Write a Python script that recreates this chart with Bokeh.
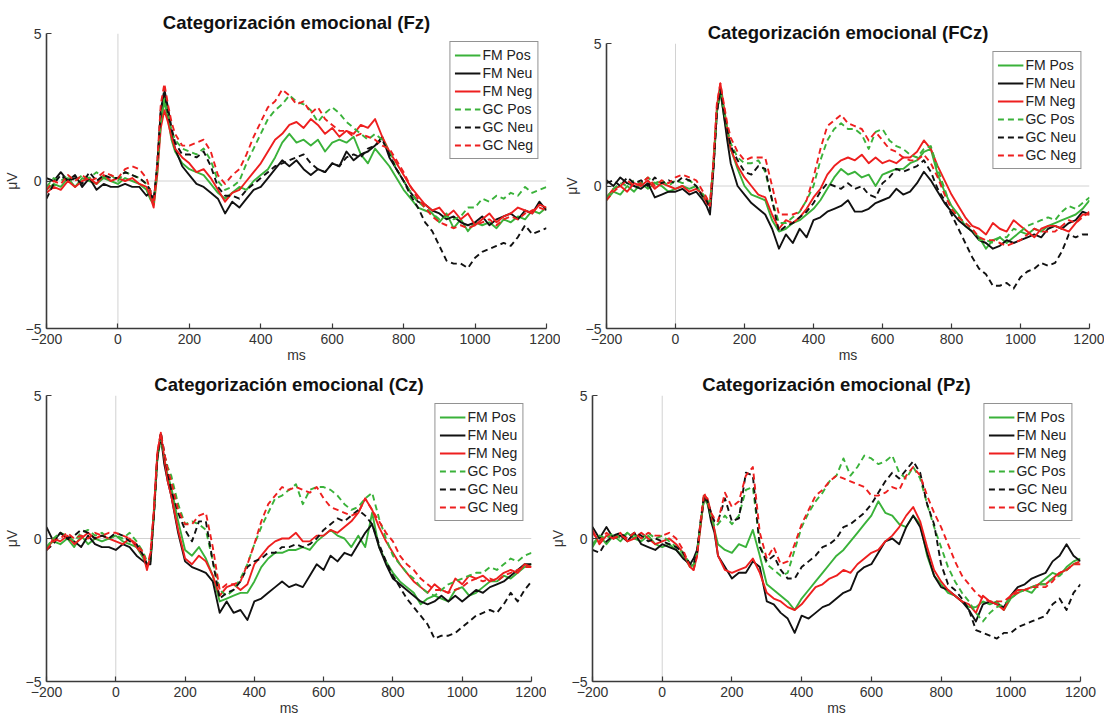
from bokeh.plotting import figure
from bokeh.models import Span, Legend, LegendItem, FixedTicker, Range1d, Spacer
from bokeh.layouts import column, row
from bokeh.embed import file_html
from bokeh.resources import INLINE

# time axis (ms)
T = [-200, -180, -160, -140, -120, -100, -80, -60, -40, -20, 0, 20, 40, 60, 80,
     90, 100, 110, 120, 130, 140, 150,
     160, 180, 200, 220, 240, 260, 280, 300, 320, 340,
     360, 380, 400, 420, 440, 460, 480, 500, 520, 540,
     560, 580, 600, 620, 640, 660, 680, 700, 720, 740,
     760, 780, 800, 820, 840, 860, 880, 900, 920, 940,
     960, 980, 1000, 1020, 1040, 1060, 1080, 1100, 1120, 1140,
     1160, 1180, 1200]

X_TICKS = [-200, 0, 200, 400, 600, 800, 1000, 1200]
Y_TICKS = [-5, 0, 5]
SERIES = ["FM Pos", "FM Neu", "FM Neg", "GC Pos", "GC Neu", "GC Neg"]

# ---------------- Fz ----------------
fz_fm_pos = [-0.3, -0.1, -0.2, 0.1, -0.2, 0.1, 0.0, -0.1, 0.1, 0.0, -0.1, 0.1, 0.0, -0.1, -0.3,
             -0.6, -0.8, 0.4, 2.0, 2.7, 2.1, 1.4,
             1.0, 0.6, 0.4, 0.3, 0.2, -0.1, -0.4, -0.6, -0.4, -0.2,
             -0.3, 0.0, 0.2, 0.4, 0.8, 1.3, 1.6, 1.3, 1.4, 1.2,
             1.4, 1.0, 1.3, 1.4, 1.3, 1.5, 0.9, 0.6, 1.1, 0.8,
             0.5, 0.1, -0.3, -0.6, -0.9, -1.0, -1.1, -1.4, -1.1, -1.6,
             -1.3, -1.7, -1.4, -1.5, -1.4, -1.6, -1.3, -1.4, -1.2, -1.3,
             -1.0, -1.1, -0.9]
fz_fm_neu = [0.1, 0.0, 0.3, 0.0, 0.2, -0.2, 0.1, -0.3, -0.1, -0.2, -0.2, -0.1, -0.2, -0.2, -0.5,
             -0.4, -0.7, 0.5, 2.4, 3.0, 2.3, 1.6,
             1.1, 0.5, 0.2, -0.1, -0.2, -0.4, -0.6, -1.1, -0.7, -0.9,
             -0.6, -0.3, -0.2, 0.1, 0.4, 0.7, 0.5, 0.7, 0.4, 0.2,
             0.4, 0.3, 0.6, 0.5, 1.0, 0.7, 0.9, 1.0, 1.2, 1.5,
             0.8, 0.4, 0.0, -0.4, -0.7, -0.8, -1.0, -1.1, -1.3, -1.2,
             -1.4, -1.5, -1.4, -1.2, -1.5, -1.3, -1.2, -1.1, -1.3, -1.0,
             -1.1, -0.7, -1.0]
fz_fm_neg = [-0.4, -0.2, -0.3, 0.0, -0.2, 0.0, 0.1, -0.1, 0.2, 0.0, 0.1, 0.0, 0.1, -0.1, -0.2,
             -0.5, -0.9, 0.2, 1.8, 2.4, 2.0, 1.5,
             1.1, 0.8, 0.6, 0.3, 0.4, 0.1, -0.3, -0.7, -0.4, -0.3,
             0.0, 0.3, 0.6, 1.0, 1.4, 1.6, 1.9, 2.0, 1.8, 2.1,
             1.9, 1.6, 1.8, 1.5, 1.7, 1.6, 1.9, 1.8, 2.1, 1.5,
             1.0, 0.6, 0.2, -0.2, -0.5, -0.8, -1.0, -0.9, -1.2, -1.0,
             -1.3, -1.1, -1.5, -1.3, -1.1, -1.4, -1.2, -1.1, -0.9, -1.0,
             -1.1, -0.8, -0.9]
fz_gc_pos = [-0.2, 0.1, 0.0, 0.2, 0.0, 0.2, 0.1, 0.3, 0.1, 0.2, 0.0, 0.3, 0.2, 0.1, -0.1,
             -0.3, -0.8, 0.3, 2.0, 2.8, 2.3, 1.7,
             1.4, 1.1, 1.0, 0.9, 1.1, 0.7, 0.0, -0.3, -0.2, 0.0,
             0.6, 1.1, 1.6, 2.1, 2.4, 2.6, 2.9, 2.7, 2.6, 2.4,
             2.0, 2.3, 2.5, 2.3, 2.0, 1.8, 1.6, 1.4, 1.6, 1.4,
             1.0, 0.4, 0.0, -0.4, -0.7, -0.9, -1.1, -1.3, -1.2, -1.3,
             -1.2, -0.9, -0.9, -0.6, -0.7, -0.5, -0.6, -0.4, -0.5, -0.2,
             -0.4, -0.3, -0.2]
fz_gc_neu = [-0.6, -0.1, 0.2, 0.0, 0.1, -0.1, 0.3, 0.0, 0.2, 0.1, 0.1, 0.3, 0.2, 0.1, -0.1,
             -0.3, -0.7, 0.5, 2.4, 3.1, 2.5, 1.8,
             1.3, 0.9, 0.9, 0.8, 1.0, 0.5, -0.2, -0.5, -0.5, -0.6,
             -0.3, -0.1, 0.1, 0.3, 0.5, 0.6, 0.7, 0.8, 0.9, 0.6,
             0.4, 0.3, 0.6, 0.5, 0.8, 0.9, 0.8, 1.1, 1.2, 1.4,
             0.9, 0.4, 0.0, -0.5, -0.9, -1.4, -1.7, -2.2, -2.7, -2.8,
             -2.8, -2.95, -2.6, -2.4, -2.3, -2.2, -2.1, -2.2, -1.9, -1.5,
             -1.8, -1.7, -1.6]
fz_gc_neg = [-0.3, 0.0, -0.1, 0.2, 0.0, 0.2, 0.0, 0.1, 0.3, 0.2, 0.1, 0.4, 0.5, 0.4, 0.1,
             -0.3, -0.8, 0.6, 2.6, 3.3, 2.6, 2.0,
             1.6, 1.2, 1.2, 1.3, 1.4, 1.0, 0.2, -0.1, 0.2, 0.4,
             0.9, 1.5, 2.0, 2.5, 2.7, 3.1, 2.9, 2.6, 2.7, 2.3,
             2.5, 2.1, 1.9, 1.7, 1.7, 1.5, 1.6, 1.5, 1.4, 1.2,
             1.1, 0.7, 0.3, -0.2, -0.6, -0.9, -1.2, -1.4, -1.5, -1.6,
             -1.5, -1.6, -1.5, -1.4, -1.3, -1.5, -1.3, -1.2, -1.3, -1.1,
             -1.0, -0.9, -1.0]

# ---------------- FCz ----------------
fcz_fm_pos = [-0.5, -0.2, -0.3, 0.0, -0.2, 0.1, -0.1, 0.1, 0.0, -0.2, -0.1, 0.0, -0.1, 0.0, -0.4,
              -0.5, -0.6, 0.8, 2.6, 3.3, 2.5, 1.8,
              1.3, 0.6, 0.0, -0.3, -0.4, -0.5, -1.2, -1.6, -1.5, -1.3,
              -1.2, -1.0, -0.8, -0.5, -0.1, 0.3, 0.6, 0.4, 0.5, 0.3,
              0.4, 0.0, 0.4, 0.5, 0.6, 0.6, 0.8, 0.9, 1.2, 1.3,
              0.4, -0.2, -0.7, -1.0, -1.4, -1.6, -1.8, -2.2, -1.9, -1.8,
              -2.0, -1.8, -1.6, -1.7, -1.5, -1.6, -1.4, -1.3, -1.2, -1.1,
              -1.0, -0.8, -0.5]
fcz_fm_neu = [0.2, 0.0, 0.3, 0.1, 0.0, -0.1, 0.1, -0.4, -0.3, -0.2, -0.2, -0.1, -0.3, -0.2, -0.5,
              -0.7, -1.0, 0.6, 2.6, 3.4, 2.5, 1.6,
              0.8, 0.0, -0.3, -0.6, -0.8, -1.0, -1.5, -2.2, -1.7, -2.0,
              -1.5, -1.8, -1.2, -1.1, -0.9, -0.8, -0.7, -0.5, -0.9, -0.9,
              -0.8, -0.6, -0.5, -0.4, -0.1, -0.3, -0.2, 0.1, 0.5, 0.2,
              -0.2, -0.6, -0.9, -1.2, -1.4, -1.6, -1.9, -2.0, -2.2, -2.1,
              -1.9, -2.0, -1.9, -1.8, -1.7, -1.8, -1.5, -1.4, -1.5, -1.3,
              -1.2, -0.9, -1.0]
fcz_fm_neg = [-0.4, -0.1, 0.0, -0.2, 0.1, 0.0, 0.2, -0.1, 0.1, 0.0, -0.1, 0.0, -0.2, -0.1, -0.3,
              -0.6, -0.7, 0.8, 2.8, 3.6, 2.8, 2.0,
              1.3, 0.7, 0.3, 0.0, -0.3, -0.4, -1.0, -1.5, -1.2, -1.3,
              -1.1, -0.8, -0.4, -0.1, 0.4, 0.7, 0.9, 1.0, 0.9, 1.1,
              0.8, 1.0, 0.8, 0.9, 0.8, 1.0, 1.0, 1.2, 1.6, 1.3,
              0.7, 0.2, -0.3, -0.7, -1.1, -1.4, -1.5, -1.7, -1.3, -1.5,
              -1.6, -1.2, -1.4, -1.6, -1.8, -1.5, -1.4, -1.4, -1.5, -1.6,
              -1.3, -1.0, -1.0]
fcz_gc_pos = [-0.4, -0.1, 0.1, 0.0, 0.2, 0.1, 0.3, 0.1, 0.2, 0.0, 0.2, 0.1, 0.2, 0.0, -0.3,
              -0.4, -0.6, 0.7, 2.6, 3.4, 2.7, 2.0,
              1.5, 1.0, 0.8, 0.8, 0.9, 0.5, -0.5, -1.3, -1.3, -1.1,
              -0.9, -0.5, 0.0, 0.9, 1.6, 2.0, 2.2, 2.0, 2.0, 1.8,
              1.3, 1.9, 2.0, 1.6, 1.4, 1.3, 1.1, 1.0, 1.3, 1.4,
              0.6, -0.1, -0.8, -1.1, -1.3, -1.5, -1.9, -1.9, -2.0, -1.8,
              -1.8, -1.5, -1.6, -1.4, -1.3, -1.2, -1.1, -1.2, -0.9, -0.7,
              -0.8, -0.6, -0.4]
fcz_gc_neu = [0.1, 0.2, 0.0, 0.3, 0.1, 0.2, 0.0, 0.3, 0.1, 0.2, 0.1, 0.3, 0.2, 0.0, -0.4,
              -0.5, -0.8, 0.6, 2.6, 3.4, 2.7, 2.0,
              1.4, 0.9, 0.5, 0.4, 0.7, 0.6, -0.5, -1.6, -1.4, -1.3,
              -1.1, -0.9, -0.6, -0.2, 0.1, 0.0, -0.1, 0.1, -0.1, 0.0,
              -0.3, -0.4, 0.1, 0.3, 0.6, 0.5, 0.6, 0.7, 0.9, 0.5,
              -0.1, -0.5, -1.0, -1.5, -2.0, -2.5, -2.9, -3.1, -3.5, -3.5,
              -3.4, -3.6, -3.2, -3.0, -2.9, -2.7, -2.8, -2.7, -2.3, -1.7,
              -1.8, -1.7, -1.7]
fcz_gc_neg = [-0.5, -0.2, 0.0, 0.2, 0.0, 0.1, 0.3, 0.0, 0.2, 0.1, 0.3, 0.4, 0.3, 0.2, -0.2,
              -0.4, -0.7, 0.9, 2.9, 3.6, 2.9, 2.2,
              1.7, 1.2, 0.9, 1.0, 1.0, 1.0, 0.0, -1.0, -1.0, -1.0,
              -0.9, -0.5, 0.3, 1.3, 2.1, 2.3, 2.5, 2.2, 2.1, 2.0,
              1.6, 1.9, 1.6, 1.3, 1.2, 1.0, 0.9, 0.9, 1.1, 0.8,
              0.3, -0.3, -0.8, -1.1, -1.3, -1.5, -1.8, -1.9, -1.9, -2.0,
              -2.1, -2.0, -1.9, -1.7, -1.5, -1.6, -1.6, -1.6, -1.4, -1.2,
              -1.3, -1.1, -0.9]

# ---------------- Cz ----------------
cz_fm_pos = [-0.3, -0.1, -0.2, 0.0, -0.3, 0.1, -0.2, 0.0, -0.1, 0.0, 0.1, -0.1, -0.2, -0.3, -0.7,
             -0.9, -0.8, 0.8, 2.8, 3.5, 2.8, 2.2,
             1.8, 0.6, -0.4, -0.6, -0.3, -0.7, -1.3, -2.2, -2.1, -2.0,
             -1.9, -1.9, -1.5, -1.0, -0.7, -0.5, -0.5, -0.4, -0.4, -0.3,
             -0.4, -0.1, 0.1, 0.3, 0.1, 0.0, -0.3, 0.1, -0.3, 0.9,
             -0.3, -0.8, -1.2, -1.5, -1.7, -1.9, -2.3, -2.1, -2.0, -2.1,
             -2.2, -1.8, -1.7, -2.0, -1.9, -1.7, -1.5, -1.5, -1.3, -1.4,
             -1.2, -1.0, -0.9]
cz_fm_neu = [0.4, -0.1, 0.2, 0.0, -0.1, -0.3, 0.1, -0.2, -0.3, -0.3, -0.4, -0.2, -0.3, -0.6, -0.8,
             -0.9, -0.9, 0.9, 2.9, 3.6, 2.6, 2.0,
             1.5, 0.2, -0.8, -1.0, -1.1, -1.2, -1.5, -2.6, -2.2, -2.6,
             -2.5, -2.85, -2.2, -2.1, -1.9, -1.7, -1.5, -1.7, -1.6, -1.7,
             -1.3, -0.9, -1.1, -0.6, -0.8, -0.5, -0.6, -0.2, 0.2, 0.5,
             -0.3, -0.9, -1.4, -1.6, -1.8, -2.0, -2.2, -2.3, -2.2, -2.0,
             -2.2, -2.0, -2.2, -2.0, -1.8, -1.9, -1.7, -1.6, -1.5, -1.3,
             -1.1, -0.9, -0.9]
cz_fm_neg = [-0.4, 0.0, -0.1, 0.1, -0.2, 0.0, 0.2, 0.0, 0.1, 0.0, -0.1, -0.2, 0.0, -0.3, -0.6,
             -1.1, -0.6, 1.0, 3.0, 3.7, 2.8, 2.0,
             1.5, 0.3, -0.7, -0.9, -0.6, -0.8, -1.3, -2.0, -1.7, -1.6,
             -1.8, -1.6, -0.9, -0.6, -0.3, -0.1, 0.0, 0.0, 0.2, -0.1,
             -0.1, 0.1, 0.1, 0.3, 0.2, 0.4, 0.6, 0.9, 1.4, 1.0,
             0.4, -0.1, -0.5, -0.9, -1.2, -1.5, -1.7, -1.9, -1.6, -1.8,
             -1.9, -1.4, -1.6, -1.3, -1.4, -1.3, -1.5, -1.4, -1.2, -1.1,
             -1.2, -0.9, -1.0]
cz_gc_pos = [-0.3, 0.0, 0.2, 0.1, -0.1, 0.2, 0.3, 0.1, 0.2, 0.0, 0.1, 0.0, 0.2, -0.1, -0.5,
             -0.8, -0.7, 0.9, 2.8, 3.5, 2.9, 2.5,
             2.2, 1.2, 0.5, 0.6, 0.5, 0.3, -0.8, -1.8, -2.0, -1.8,
             -1.4, -0.9, -0.2, 0.4, 0.9, 1.4, 1.5, 1.7, 1.9, 1.2,
             1.7, 1.8, 1.8, 1.7, 1.5, 1.2, 1.0, 1.1, 1.4, 1.6,
             0.7, 0.0, -0.6, -0.9, -1.2, -1.4, -1.7, -1.9, -2.0, -1.8,
             -1.6, -1.5, -1.4, -1.3, -1.2, -1.2, -1.0, -1.1, -0.9, -0.7,
             -0.8, -0.6, -0.5]
cz_gc_neu = [-0.4, -0.2, 0.2, 0.0, 0.1, 0.3, 0.2, 0.0, 0.1, 0.0, 0.2, 0.1, -0.1, -0.2, -0.6,
             -0.9, -0.7, 0.8, 2.8, 3.7, 3.0, 2.3,
             1.7, 0.9, 0.3, -0.1, 0.6, 0.6, -0.8, -2.1, -1.9, -1.8,
             -1.5, -1.0, -0.8, -0.7, -0.5, -0.5, -0.3, -0.3, -0.2, -0.3,
             -0.2, 0.0, 0.3, 0.5, 0.7, 0.6, 0.8, 1.0, 0.8, 0.5,
             -0.2, -0.8, -1.3, -1.7, -2.1, -2.4, -2.7, -3.0, -3.5, -3.4,
             -3.4, -3.3, -3.1, -2.9, -2.7, -2.6, -2.5, -2.6, -2.3, -1.9,
             -2.2, -1.8, -1.5]
cz_gc_neg = [-0.4, -0.1, 0.0, 0.2, 0.0, 0.1, 0.0, 0.2, 0.1, 0.2, 0.2, 0.1, 0.0, -0.2, -0.5,
             -1.0, -0.5, 1.0, 3.0, 3.7, 3.0, 2.4,
             2.0, 1.0, 0.5, 0.5, 0.8, 0.9, -0.3, -1.8, -1.6, -1.6,
             -1.5, -0.9, -0.2, 0.6, 1.2, 1.5, 1.8, 1.7, 1.8, 1.7,
             1.6, 1.8, 1.4, 1.1, 1.0, 0.9, 0.8, 0.9, 1.4, 1.0,
             0.6, 0.2, -0.1, -0.6, -0.9, -1.1, -1.4, -1.6, -1.8, -1.8,
             -1.9, -1.8, -1.7, -1.5, -1.4, -1.5, -1.4, -1.5, -1.3, -1.2,
             -1.1, -1.0, -1.0]

# ---------------- Pz ----------------
pz_fm_pos = [-0.3, 0.1, -0.2, 0.1, -0.1, 0.2, 0.0, -0.1, 0.1, -0.2, -0.3, -0.2, -0.4, -0.6, -1.0,
             -0.9, -0.5, 0.5, 1.4, 1.2, 0.7, 0.3,
             -0.2, -0.4, -0.5, -0.2, -0.3, 0.3, -0.6, -1.6, -1.8, -2.0,
             -2.2, -2.5, -2.1, -1.8, -1.5, -1.2, -0.9, -0.6, -0.4, -0.1,
             0.2, 0.5, 0.8, 1.3, 0.9, 0.8, 0.5, 0.4, 0.8, 0.5,
             -0.6, -1.3, -1.6, -1.9, -2.0, -2.2, -2.4, -2.4, -2.2, -2.3,
             -2.2, -2.5, -2.1, -1.9, -1.8, -1.9, -1.6, -1.4, -1.2, -1.3,
             -1.0, -0.8, -0.7]
pz_fm_neu = [0.4, 0.0, 0.4, 0.0, 0.1, -0.1, 0.2, -0.2, -0.3, -0.4, -0.2, -0.3, -0.4, -0.7, -0.9,
             -0.7, -0.4, 0.5, 1.4, 1.3, 0.6, 0.2,
             -0.6, -1.0, -1.4, -1.2, -1.2, -0.8, -1.0, -2.2, -2.3, -2.6,
             -2.8, -3.3, -2.7, -2.8, -2.6, -2.4, -2.3, -2.1, -1.9, -1.8,
             -1.2, -1.0, -0.9, -0.5, -0.1, 0.0, -0.2, 0.4, 0.8, 0.4,
             -0.5, -1.3, -1.7, -1.8, -2.0, -2.2, -2.5, -2.9, -2.3, -2.2,
             -2.3, -2.4, -2.0, -1.7, -1.6, -1.4, -1.3, -1.2, -0.8, -0.6,
             -0.2, -0.6, -0.8]
pz_fm_neg = [0.3, -0.2, 0.1, 0.0, 0.2, -0.1, 0.0, 0.2, 0.0, -0.2, -0.1, 0.0, -0.2, -0.5, -1.0,
             -1.1, -0.6, 0.4, 1.5, 1.4, 0.9, 0.3,
             -0.6, -1.1, -1.2, -1.1, -1.0, -0.7, -1.2, -1.9, -2.1, -2.2,
             -2.4, -2.5, -2.3, -2.0, -1.7, -1.6, -1.4, -1.3, -1.1, -1.2,
             -0.9, -0.7, -0.5, -0.4, -0.1, 0.1, 0.4, 0.8, 1.1, 0.6,
             -0.3, -1.1, -1.5, -1.8, -2.0, -2.2, -2.3, -2.6, -2.0, -2.2,
             -2.3, -2.5, -2.0, -1.8, -1.8, -1.7, -1.6, -1.6, -1.4, -1.2,
             -1.1, -0.9, -0.9]
pz_gc_pos = [-0.2, 0.1, 0.0, 0.2, 0.0, 0.2, 0.1, 0.0, 0.2, 0.0, 0.1, -0.1, -0.3, -0.5, -0.9,
             -1.0, -0.5, 0.5, 1.5, 1.3, 0.8, 0.4,
             0.5, 0.8, 0.5, 0.8, 1.7, 1.8, -0.2, -0.9, -1.1, -1.3,
             -1.2, -0.4, 0.4, 0.9, 1.3, 1.6, 2.0, 2.2, 2.8, 2.2,
             2.5, 2.9, 2.8, 2.6, 2.7, 2.9, 2.3, 2.1, 2.5, 2.1,
             1.2, 0.4, -0.3, -1.0, -1.5, -1.9, -2.2, -2.6, -2.9, -2.6,
             -2.4, -2.3, -2.1, -1.9, -1.8, -1.7, -1.6, -1.6, -1.4, -1.3,
             -1.1, -0.9, -0.8]
pz_gc_neu = [-0.4, -0.5, -0.1, 0.1, 0.2, 0.0, 0.2, 0.1, -0.1, 0.0, -0.1, -0.2, -0.3, -0.5, -0.9,
             -0.9, -0.5, 0.6, 1.5, 1.3, 0.9, 0.6,
             0.6, 1.4, 0.6, 0.7, 2.3, 2.2, -0.3, -0.8, -0.6, -1.1,
             -1.4, -1.4, -1.0, -0.8, -0.6, -0.3, -0.2, 0.0, 0.4, 0.5,
             0.7, 0.9, 1.2, 1.6, 2.0, 2.3, 2.1, 2.4, 2.7, 2.3,
             1.2, 0.5, -0.9, -1.6, -1.8, -2.1, -2.5, -3.2, -3.3, -3.4,
             -3.5, -3.3, -3.3, -3.1, -3.0, -2.9, -2.8, -2.7, -2.3, -2.1,
             -2.5, -1.9, -1.6]
pz_gc_neg = [0.2, -0.1, 0.2, 0.0, 0.1, 0.0, 0.2, 0.0, 0.2, 0.1, 0.1, 0.2, 0.0, -0.4, -1.0,
             -1.1, -0.6, 0.6, 1.6, 1.3, 0.9, 0.7,
             0.6, 1.6, 1.1, 1.3, 2.2, 2.5, 0.2, -0.7, -0.3, -0.9,
             -0.8, -0.2, 0.5, 1.0, 1.5, 1.7, 2.0, 2.2, 2.1, 2.0,
             1.9, 1.8, 1.5, 1.5, 1.6, 1.8, 1.7, 2.2, 2.5, 2.2,
             1.5, 0.9, 0.4, -0.2, -0.8, -1.3, -1.6, -1.9, -2.1, -2.2,
             -2.2, -2.2, -2.0, -1.9, -1.8, -1.7, -1.7, -1.7, -1.5, -1.2,
             -1.1, -0.9, -0.8]

GREEN = "#3ab23a"
BLACK = "#111111"
RED = "#ee1f1f"
COLORS = [GREEN, BLACK, RED, GREEN, BLACK, RED]
DASHES = ["solid", "solid", "solid", "6 4", "6 4", "6 4"]
FONT = "Liberation Sans"
AXIS_COLOR = "#3a3a3a"


def panel(title, data, w, h, bl, br, bt, bb):
    for name, ys in zip(SERIES, data):
        if len(ys) != len(T):
            raise ValueError(f"{title} {name}: {len(ys)} vs {len(T)}")
    p = figure(width=w, height=h, output_backend="svg", toolbar_location=None,
               x_range=Range1d(-200, 1200), y_range=Range1d(-5, 5),
               min_border_left=bl, min_border_right=br,
               min_border_top=bt, min_border_bottom=bb)
    p.title.text = title
    p.title.align = "center"
    p.title.text_font = FONT
    p.title.text_font_size = "18.5px"
    p.title.text_font_style = "bold"
    p.title.text_color = "#111111"
    p.title.standoff = 2
    p.outline_line_color = None
    p.xgrid.visible = False
    p.ygrid.visible = False
    p.background_fill_color = "white"
    p.border_fill_color = "white"

    p.add_layout(Span(location=0, dimension="height", line_color="#d2d2d2",
                      line_width=1, level="underlay"))
    p.add_layout(Span(location=0, dimension="width", line_color="#d2d2d2",
                      line_width=1, level="underlay"))

    items = []
    for name, ys, c, d in zip(SERIES, data, COLORS, DASHES):
        r = p.line(T, ys, line_color=c, line_width=1.9, line_dash=d,
                   line_join="round")
        items.append(LegendItem(label=name, renderers=[r]))

    p.xaxis.ticker = FixedTicker(ticks=X_TICKS)
    p.yaxis.ticker = FixedTicker(ticks=Y_TICKS)
    p.xaxis.axis_label = "ms"
    p.yaxis.axis_label = "\u03bcV"
    for ax in (p.xaxis, p.yaxis):
        ax.axis_line_color = AXIS_COLOR
        ax.axis_line_width = 1.6
        ax.major_tick_line_color = AXIS_COLOR
        ax.major_tick_line_width = 1.2
        ax.major_tick_in = 5
        ax.major_tick_out = 0
        ax.minor_tick_line_color = None
        ax.major_label_text_font = FONT
        ax.major_label_text_font_size = "14px"
        ax.major_label_text_color = "#333333"
        ax.axis_label_text_font = FONT
        ax.axis_label_text_font_size = "14px"
        ax.axis_label_text_font_style = "normal"
        ax.axis_label_text_color = "#333333"
    p.xaxis.major_label_standoff = 5
    p.xaxis.axis_label_standoff = 0
    p.yaxis.major_label_standoff = 5
    p.yaxis.axis_label_standoff = 3

    leg = Legend(items=items, location="top_right")
    leg.margin = 8
    leg.padding = 4
    leg.spacing = 0
    leg.label_height = 18
    leg.glyph_height = 18
    leg.glyph_width = 26
    leg.label_standoff = 2
    leg.label_text_font = FONT
    leg.label_text_font_size = "14px"
    leg.label_text_color = "#222222"
    leg.border_line_color = "#262626"
    leg.border_line_width = 1.2
    leg.background_fill_color = "white"
    leg.background_fill_alpha = 1.0
    p.add_layout(leg)
    return p


p1 = panel("Categorizaci\u00f3n emocional (Fz)",
           [fz_fm_pos, fz_fm_neu, fz_fm_neg, fz_gc_pos, fz_gc_neu, fz_gc_neg],
           560, 365, 46, 14, 33, 37)
p2 = panel("Categorizaci\u00f3n emocional (FCz)",
           [fcz_fm_pos, fcz_fm_neu, fcz_fm_neg, fcz_gc_pos, fcz_gc_neu, fcz_gc_neg],
           544, 355, 44, 15, 33, 37)
p3 = panel("Categorizaci\u00f3n emocional (Cz)",
           [cz_fm_pos, cz_fm_neu, cz_fm_neg, cz_gc_pos, cz_gc_neu, cz_gc_neg],
           546, 357, 46, 15, 30, 41)
p4 = panel("Categorizaci\u00f3n emocional (Pz)",
           [pz_fm_pos, pz_fm_neu, pz_fm_neg, pz_gc_pos, pz_gc_neu, pz_gc_neg],
           554, 357, 45, 20, 30, 41)

layout = column(row(p1, column(Spacer(width=544, height=10), p2)),
                row(p3, p4))
open("out.html", "w").write(file_html(layout, INLINE))
